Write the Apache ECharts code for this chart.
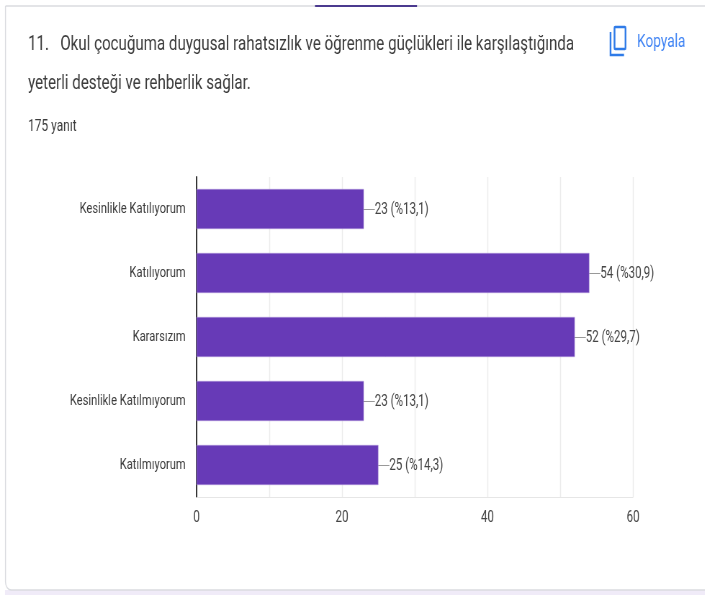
<!DOCTYPE html>
<html><head><meta charset="utf-8">
<style>html,body{margin:0;padding:0;background:#fff;overflow:hidden;width:705px;height:595px}
#c{width:980px;height:595px;transform:scale(0.72,1);transform-origin:0 0}</style>
<script src="https://cdn.jsdelivr.net/npm/echarts@6/dist/echarts.min.js"></script>
</head><body><div id="c"></div>
<script>
var categories = ['Kesinlikle Katılıyorum','Katılıyorum','Kararsızım','Kesinlikle Katılmıyorum','Katılmıyorum'];
var counts = [23,54,52,23,25];
var percents = ['13,1','30,9','29,7','13,1','14,3'];
var titleLine1 = '11.   Okul çocuğuma duygusal rahatsızlık ve öğrenme güçlükleri ile karşılaştığında';
var titleLine2 = 'yeterli desteği ve rehberlik sağlar.';
var responses = '175 yanıt';
var copyLabel = 'Kopyala';
var S = 0.72;
function X(px){return px/S;}
var font = 'Roboto,sans-serif';
var chart = echarts.init(document.getElementById('c'));
chart.setOption({
  backgroundColor:'#fff',
  animation:false,
  grid:{left:X(196.5),width:X(633-196.5),top:177,bottom:98,containLabel:false},
  xAxis:{type:'value',min:0,max:60,interval:10,
    axisLine:{show:true,lineStyle:{color:'#e6e6e6',width:1}},axisTick:{show:false},
    axisLabel:{margin:13,color:'#444',fontFamily:font,fontSize:16,
      formatter:function(v){return v%20===0?String(v):'';}},
    splitLine:{show:true,lineStyle:{color:'#ececec',width:1.4}}},
  yAxis:{type:'category',inverse:true,data:categories,
    axisLine:{show:true,lineStyle:{color:'#222',width:1.8}},axisTick:{show:false},
    axisLabel:{margin:15,color:'#3c3c3c',fontFamily:font,fontSize:15.5,padding:[3,0,0,0]}},
  series:[{type:'bar',data:counts,barWidth:40,
    itemStyle:{color:'#673ab7',borderColor:'#a98fd8',borderWidth:0.6},
    label:{show:true,position:'right',distance:0,color:'#444',fontFamily:font,fontSize:16,
      formatter:function(p){return counts[p.dataIndex]+' (%'+percents[p.dataIndex]+')';}},
    labelLayout:{dx:X(11),dy:0.5},
    labelLine:{show:true,lineStyle:{color:'#999',width:1}}
  }],
  graphic:[
    {type:'rect',z:-10,silent:true,shape:{x:X(5),y:590,width:X(705),height:5},style:{fill:'#f0ebf8'}},
    {type:'rect',z:-9,silent:true,shape:{x:X(5.5),y:6,width:X(720),height:584,r:[0,0,0,8]},style:{fill:'#fff',stroke:'#dadce0',lineWidth:1.4}},
    {type:'rect',z:-7,silent:true,shape:{x:X(315),y:5,width:X(102),height:2},style:{fill:'#4b3a8f'}},
    {type:'text',x:X(28),y:45,style:{text:titleLine1,fill:'#3c3c3c',font:'21px '+font,textVerticalAlign:'middle'}},
    {type:'text',x:X(28),y:84,style:{text:titleLine2,fill:'#3c3c3c',font:'21px '+font,textVerticalAlign:'middle'}},
    {type:'text',x:X(28),y:127,style:{text:responses,fill:'#3c3c3c',font:'16.6px '+font,textVerticalAlign:'middle'}},
    {type:'text',x:X(637),y:42,style:{text:copyLabel,fill:'#4285f4',font:'19px '+font,textVerticalAlign:'middle'}},
    {type:'rect',shape:{x:X(614.5),y:27,width:X(11),height:22,r:1},style:{fill:'none',stroke:'#2f7be8',lineWidth:2.4}},
    {type:'polyline',shape:{points:[[X(610.5),32],[X(610.5),55],[X(624),55]]},style:{fill:'none',stroke:'#2f7be8',lineWidth:2.4}}
  ]
});
</script></body></html>
